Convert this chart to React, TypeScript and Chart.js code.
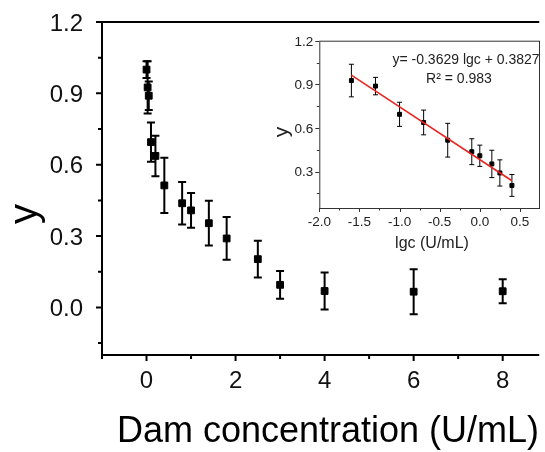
import React, { useEffect, useRef } from "react";
import { Chart, registerables } from "chart.js";

Chart.register(...registerables);

// ---------- Main chart data ----------
const concentration = [0, 0.025, 0.05, 0.1, 0.2, 0.4, 0.8, 1.0, 1.4, 1.8, 2.5, 3, 4, 6, 8];
const signal = [1.0, 0.925, 0.89, 0.695, 0.637, 0.513, 0.438, 0.408, 0.354, 0.29, 0.203, 0.095, 0.069, 0.066, 0.068];
const signalErr = [0.035, 0.11, 0.06, 0.083, 0.085, 0.116, 0.089, 0.073, 0.094, 0.09, 0.077, 0.058, 0.078, 0.095, 0.05];
const mainXTicks = [0, 2, 4, 6, 8];
const mainXMinor = [-1, 1, 3, 5, 7];
const mainYTicks = [0, 0.3, 0.6, 0.9, 1.2];
const mainYMinor = [-0.15, 0.15, 0.45, 0.75, 1.05];

// ---------- Inset data ----------
const lgc = [-1.6, -1.3, -1.0, -0.7, -0.4, -0.1, 0, 0.15, 0.25, 0.4];
const insetY = [0.926, 0.888, 0.694, 0.638, 0.516, 0.437, 0.409, 0.353, 0.291, 0.205];
const insetErr = [0.112, 0.06, 0.083, 0.085, 0.116, 0.089, 0.073, 0.094, 0.09, 0.075];
const fitSlope = -0.3629;
const fitIntercept = 0.3827;
const fitRange = [-1.6, 0.4];
const insetXTicks = [-2.0, -1.5, -1.0, -0.5, 0.0, 0.5];
const insetXMinor = [-1.75, -1.25, -0.75, -0.25, 0.25];
const insetYTicks = [0.3, 0.6, 0.9, 1.2];
const insetYMinor = [0.15, 0.45, 0.75, 1.05];

const FONT = '"Liberation Sans", Arial, Helvetica, sans-serif';
const f = (s: number) => `${s}px ${FONT}`;

function drawErrorBars(chart: any, xs: number[], ys: number[], es: number[], lw: number, cap: number, color: string) {
  const ctx = chart.ctx;
  const xS = chart.scales.x;
  const yS = chart.scales.y;
  ctx.save();
  ctx.strokeStyle = color;
  ctx.lineWidth = lw;
  for (let i = 0; i < xs.length; i++) {
    const px = xS.getPixelForValue(xs[i]);
    const top = yS.getPixelForValue(ys[i] + es[i]);
    const bot = yS.getPixelForValue(ys[i] - es[i]);
    ctx.beginPath();
    ctx.moveTo(px, top);
    ctx.lineTo(px, bot);
    ctx.moveTo(px - cap, top);
    ctx.lineTo(px + cap, top);
    ctx.moveTo(px - cap, bot);
    ctx.lineTo(px + cap, bot);
    ctx.stroke();
  }
  ctx.restore();
}

const mainPlugin = {
  id: "mainDecor",
  beforeDatasetsDraw(chart: any) {
    drawErrorBars(chart, concentration, signal, signalErr, 2, 4, "#000");
  },
  afterDraw(chart: any) {
    const ctx = chart.ctx;
    const { left, right, top, bottom } = chart.chartArea;
    const xS = chart.scales.x;
    const yS = chart.scales.y;
    ctx.save();
    ctx.strokeStyle = "#000";
    ctx.lineWidth = 2;
    ctx.beginPath();
    ctx.moveTo(left, top);
    ctx.lineTo(right, top);
    ctx.moveTo(left, top - 1);
    ctx.lineTo(left, bottom + 1);
    ctx.moveTo(left - 1, bottom);
    ctx.lineTo(right, bottom);
    ctx.stroke();
    ctx.beginPath();
    mainXTicks.forEach((v) => {
      const px = xS.getPixelForValue(v);
      ctx.moveTo(px, bottom);
      ctx.lineTo(px, bottom + 6);
    });
    mainXMinor.forEach((v) => {
      const px = xS.getPixelForValue(v);
      ctx.moveTo(px, bottom);
      ctx.lineTo(px, bottom + 4);
    });
    mainYTicks.forEach((v) => {
      const py = yS.getPixelForValue(v);
      ctx.moveTo(left, py);
      ctx.lineTo(left - 6, py);
    });
    mainYMinor.forEach((v) => {
      const py = yS.getPixelForValue(v);
      ctx.moveTo(left, py);
      ctx.lineTo(left - 4, py);
    });
    ctx.stroke();
    ctx.fillStyle = "#111";
    ctx.font = f(24);
    ctx.textAlign = "center";
    ctx.textBaseline = "alphabetic";
    mainXTicks.forEach((v) => {
      ctx.fillText(String(v), xS.getPixelForValue(v), bottom + 33);
    });
    ctx.textAlign = "right";
    mainYTicks.forEach((v) => {
      ctx.fillText(v.toFixed(1), left - 19, yS.getPixelForValue(v) + 8.5);
    });
    ctx.fillStyle = "#000";
    ctx.font = f(36);
    ctx.textAlign = "center";
    ctx.fillText("Dam concentration (U/mL)", 328, 442);
    ctx.save();
    ctx.font = f(40);
    ctx.translate(37, 214);
    ctx.rotate(-Math.PI / 2);
    ctx.fillText("y", 0, 0);
    ctx.restore();
    ctx.restore();
  },
};

const insetPlugin = {
  id: "insetDecor",
  beforeDatasetsDraw(chart: any) {
    drawErrorBars(chart, lgc, insetY, insetErr, 1, 2.5, "#000");
  },
  afterDraw(chart: any) {
    const ctx = chart.ctx;
    const { left, right, top, bottom } = chart.chartArea;
    const xS = chart.scales.x;
    const yS = chart.scales.y;
    ctx.save();
    ctx.strokeStyle = "#333";
    ctx.lineWidth = 1;
    ctx.strokeRect(left + 0.5, top + 0.5, right - left - 1, bottom - top);
    ctx.beginPath();
    insetXTicks.forEach((v) => {
      const px = Math.round(xS.getPixelForValue(v)) + 0.5;
      ctx.moveTo(px, bottom);
      ctx.lineTo(px, bottom + 4);
    });
    insetXMinor.forEach((v) => {
      const px = Math.round(xS.getPixelForValue(v)) + 0.5;
      ctx.moveTo(px, bottom);
      ctx.lineTo(px, bottom + 2.5);
    });
    insetYTicks.forEach((v) => {
      const py = Math.round(yS.getPixelForValue(v)) + 0.5;
      ctx.moveTo(left, py);
      ctx.lineTo(left - 4, py);
    });
    insetYMinor.forEach((v) => {
      const py = Math.round(yS.getPixelForValue(v)) + 0.5;
      ctx.moveTo(left, py);
      ctx.lineTo(left - 2.5, py);
    });
    ctx.stroke();
    ctx.fillStyle = "#222";
    ctx.font = f(13.5);
    ctx.textAlign = "center";
    insetXTicks.forEach((v) => {
      ctx.fillText(v.toFixed(1), xS.getPixelForValue(v), bottom + 17.5);
    });
    ctx.textAlign = "right";
    insetYTicks.forEach((v) => {
      ctx.fillText(v.toFixed(1), left - 6, yS.getPixelForValue(v) + 4.8);
    });
    ctx.textAlign = "center";
    ctx.font = f(16);
    ctx.fillText("lgc (U/mL)", 164, 222);
    ctx.save();
    ctx.font = f(21);
    ctx.translate(20, 106);
    ctx.rotate(-Math.PI / 2);
    ctx.fillText("y", 0, 0);
    ctx.restore();
    ctx.font = f(14);
    ctx.fillText("y= -0.3629 lgc + 0.3827", 198, 38);
    ctx.fillText("R² = 0.983", 191, 57);
    ctx.restore();
  },
};

export default function App() {
  const mainRef = useRef<HTMLCanvasElement>(null);
  const insetRef = useRef<HTMLCanvasElement>(null);

  useEffect(() => {
    const main = new Chart(mainRef.current as HTMLCanvasElement, {
      type: "scatter",
      data: {
        datasets: [
          {
            data: concentration.map((x, i) => ({ x, y: signal[i] })),
            pointStyle: "rect",
            pointRadius: 4.8,
            backgroundColor: "#000",
            borderColor: "#000",
            borderWidth: 1,
          },
        ],
      },
      options: {
        animation: false,
        responsive: false,
        events: [],
        layout: { padding: { top: 22, left: 0, right: 0, bottom: 0 } },
        plugins: { legend: { display: false }, tooltip: { enabled: false } },
        scales: {
          x: {
            type: "linear",
            min: -1,
            max: 8.82,
            ticks: { display: false },
            grid: { display: false },
            border: { display: false },
            afterFit: (s: any) => {
              s.height = 97;
            },
          },
          y: {
            type: "linear",
            min: -0.2,
            max: 1.2,
            ticks: { display: false },
            grid: { display: false },
            border: { display: false },
            afterFit: (s: any) => {
              s.width = 102;
            },
          },
        },
      } as any,
      plugins: [mainPlugin],
    });

    const inset = new Chart(insetRef.current as HTMLCanvasElement, {
      type: "scatter",
      data: {
        datasets: [
          {
            type: "line",
            data: fitRange.map((x) => ({ x, y: fitSlope * x + fitIntercept })),
            borderColor: "#e8251f",
            borderWidth: 1.6,
            pointRadius: 0,
            fill: false,
          } as any,
          {
            data: lgc.map((x, i) => ({ x, y: insetY[i] })),
            pointStyle: "rect",
            pointRadius: 2.8,
            backgroundColor: "#000",
            borderColor: "#000",
            borderWidth: 1,
          },
        ],
      },
      options: {
        animation: false,
        responsive: false,
        events: [],
        layout: { padding: { top: 14.7, left: 0, right: 1, bottom: 0 } },
        plugins: { legend: { display: false }, tooltip: { enabled: false } },
        scales: {
          x: {
            type: "linear",
            min: -2,
            max: 0.75,
            ticks: { display: false },
            grid: { display: false },
            border: { display: false },
            afterFit: (s: any) => {
              s.height = 58;
            },
          },
          y: {
            type: "linear",
            min: 0.05,
            max: 1.2,
            ticks: { display: false },
            grid: { display: false },
            border: { display: false },
            afterFit: (s: any) => {
              s.width = 51.3;
            },
          },
        },
      } as any,
      plugins: [insetPlugin],
    });

    return () => {
      main.destroy();
      inset.destroy();
    };
  }, []);

  return (
    <div style={{ position: "fixed", left: 0, top: 0, width: 545, height: 452, background: "#fff", overflow: "hidden" }}>
      <canvas ref={mainRef} width={545} height={452} style={{ position: "absolute", left: 0, top: 0, width: 545, height: 452 }} />
      <canvas
        ref={insetRef}
        width={277}
        height={240}
        style={{ position: "absolute", left: 268, top: 26, width: 277, height: 240, background: "#fff" }}
      />
    </div>
  );
}
